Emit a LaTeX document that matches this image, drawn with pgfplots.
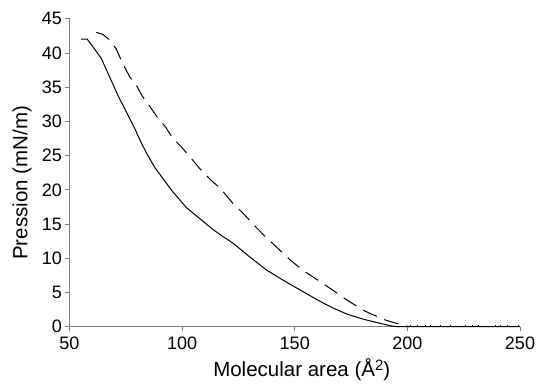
\documentclass[border=0pt]{standalone}
\usepackage{fontspec}
\setmainfont{Liberation Sans}
\usepackage{pgfplots}
\pgfplotsset{compat=1.18}
\begin{document}
\begin{tikzpicture}
\begin{axis}[
  scale only axis, width=450.5pt, height=308pt,
  xmin=50, xmax=250, ymin=0, ymax=45,
  axis x line*=bottom, axis y line*=left,
  axis line style={gray, line width=0.8pt, -},
  xtick={50,100,...,250}, ytick={0,5,...,45},
  tick style={gray, line width=0.8pt}, tick align=outside, major tick length=4pt,
  ticklabel style={font=\fontsize{18}{20}\selectfont},
  xticklabel style={yshift=-3pt},
  /pgf/number format/assume math mode=true,
  xlabel={Molecular area (Å\raisebox{0.55ex}{\fontsize{15}{15}\selectfont 2})}, ylabel={Pression (mN/m)},
  label style={font=\fontsize{20.5}{24}\selectfont},
  xlabel style={at={(axis description cs:0.5,0)}, anchor=base, yshift=-50pt, xshift=7pt},
  ylabel style={at={(axis description cs:0,0.467)}, anchor=center, yshift=47.5pt},
  clip=false,
]
\addplot[black, line width=1pt] coordinates {
(55.2,42.0)(57.9,42.0)(60.4,40.9)(64.1,39.2)(67.8,36.5)(71.5,33.8)(75.2,31.4)(78.9,29.0)
(81.8,26.9)(84.8,25.0)(88,23.2)(91.8,21.5)(95.9,19.7)(101.9,17.4)(107.8,15.8)(113.7,14.2)
(118,13.2)(122.6,12.2)(130,10.2)(137.4,8.3)(144.8,6.8)(152.2,5.4)(159.6,4.0)(166.5,2.8)
(173.5,1.8)(180.4,1.1)(187.8,0.5)(193,0.1)(196,0)(250,0)
};
\addplot[black, line width=1pt, dash pattern=on 15pt off 8pt] coordinates {
(61.9,43.0)(64.8,42.7)(67.8,41.9)(70.7,40.6)(73,38.9)(74.4,38.0)(76.7,36.5)(79.3,35.5)
(82.3,33.7)(85.2,32.4)(89.6,30.3)(92.4,29.3)(95.9,27.5)(99.6,26.3)(104.8,24.3)(107.8,23.1)
(112.5,21.5)(117,20.2)(122.6,18.0)(127,16.6)(132.9,14.5)(136.2,13.4)(143.3,11.2)(147.8,9.8)
(153.7,8.2)(158.9,7.1)(166.6,5.4)(172.7,4.0)(180.4,2.4)(183,2.0)(190,1.0)(196,0.4)(199.6,0.1)(201,0)
};
\addplot[black, line width=1pt] coordinates {(200,0)(250,0)};
\addplot[black, line width=0.6pt, ycomb] coordinates {
(201.1,0.3)(204.4,0.3)(207.8,0.3)(210,0.3)(214.5,0.3)(218.9,0.3)(225.6,0.3)(228.6,0.3)
(231.5,0.3)(239,0.3)(241.2,0.3)(244.2,0.3)(249.4,0.3)
};
\end{axis}
\pgfresetboundingbox
\path[use as bounding box] (-69.5pt,-60.3pt) rectangle (467.5pt,326.7pt);
\end{tikzpicture}
\end{document}
